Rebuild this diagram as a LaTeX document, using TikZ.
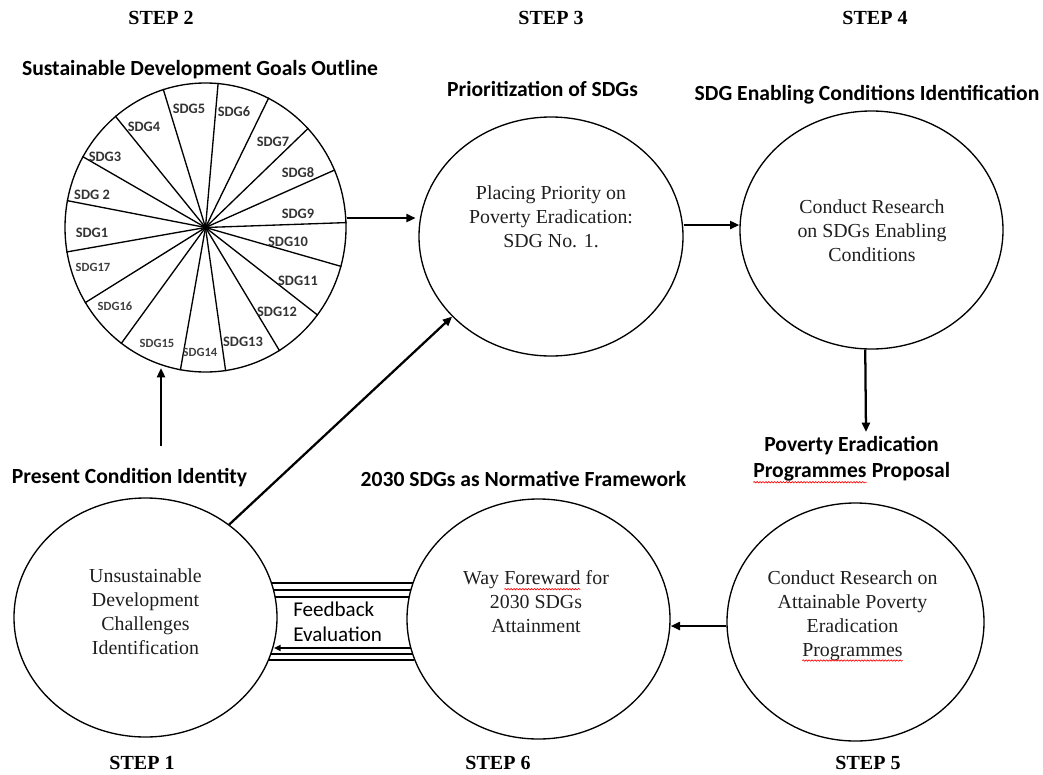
\documentclass[tikz,border=0pt]{standalone}
\usepackage{fontspec}
\setmainfont{Liberation Serif}
\newfontfamily\calfont{Carlito}
\usetikzlibrary{shapes.geometric,arrows.meta,decorations.pathmorphing,calc}
\newcommand\spell[1]{\tikz[baseline=(sp.base)]{\node[inner sep=0pt,outer sep=0pt](sp){#1};\draw[red,line width=0.5pt,decorate,decoration={snake,amplitude=0.5pt,segment length=2.2pt}]([yshift=-3.2pt]sp.base west)--([yshift=-3.2pt]sp.base east);}}
\begin{document}
\begin{tikzpicture}[x=0.75pt,y=-0.75pt,
  circ/.style={draw, ellipse, inner sep=0pt, line width=1pt},
  arr/.style={line width=1.7pt, -{Triangle[length=7pt,width=6pt]}},
  ttl/.style={font=\calfont\bfseries\fontsize{16.2}{19.5}\selectfont, inner sep=1pt, align=center},
  steplab/.style={font=\bfseries\fontsize{15}{18}\selectfont, inner sep=1pt},
  body/.style={font=\fontsize{14.9}{18}\selectfont, align=center, text=black!88, inner sep=0pt},
  sdg/.style={font=\calfont\bfseries\fontsize{10.8}{12}\selectfont, inner sep=0pt, text=black!80},
  sdgs/.style={font=\calfont\bfseries\fontsize{9.4}{11}\selectfont, inner sep=0pt, text=black!75},
  spoke/.style={line width=1pt},
  fb/.style={line width=0.9pt},
]
\useasboundingbox (0,0) rectangle (1043,775);

% ---- circles ----
\node[circ, minimum width=210.75pt, minimum height=216.75pt] (wheel) at (205.5,227.5) {};
\node[circ, minimum width=198pt, minimum height=179.25pt] (s3) at (551,236.5) {};
\node[circ, minimum width=197.25pt, minimum height=178.5pt] (s4) at (871.5,230) {};
\node[circ, minimum width=197.25pt, minimum height=179.25pt] (s1) at (145.5,617.5) {};
\node[circ, minimum width=197.25pt, minimum height=180pt] (s6) at (538.5,619) {};
\node[circ, minimum width=192.75pt, minimum height=178.5pt] (s5) at (855.5,622) {};

% ---- wheel spokes ----
\foreach \a in {107,85,64,44,24,2,344,322,301,278,260,234,212,190,169,150,129}
  \draw[spoke] (wheel.center) -- (wheel.\a);

% ---- wheel labels ----
\node[sdg] (g5) at (189,109) {SDG5};
\node[sdg] (g6) at (234,112) {SDG6};
\node[sdg] (g7) at (273,142) {SDG7};
\node[sdg] (g8) at (298,173) {SDG8};
\node[sdg] (g9) at (298,214) {SDG9};
\node[sdg] (g10) at (288,242) {SDG10};
\node[sdg] (g11) at (298,281) {SDG11};
\node[sdg] (g12) at (277,312) {SDG12};
\node[sdg] (g13) at (243,342) {SDG13};
\node[sdgs] (g14) at (200,352) {SDG14};
\node[sdgs] (g15) at (157,343) {SDG15};
\node[sdgs] (g16) at (115,306) {SDG16};
\node[sdgs] (g17) at (93,267) {SDG17};
\node[sdg] (g1) at (92,233) {SDG1};
\node[sdg] (g2) at (92,195) {SDG 2};
\node[sdg] (g3) at (105,157) {SDG3};
\node[sdg] (g4) at (144,127) {SDG4};

% ---- circle texts ----
\node[body] (t3) at (551,217) {Placing Priority on\\Poverty Eradication:\\SDG No. 1.};
\node[body] (t4) at (872,231) {Conduct Research\\on SDGs Enabling\\Conditions};
\node[body] (t1) at (145.5,612) {Unsustainable\\Development\\Challenges\\Identification};
\node[body] (t6) at (536,602) {Way \spell{Foreward} for\\2030 SDGs\\Attainment};
\node[body] (t5) at (852.5,616) {Conduct Research on\\Attainable Poverty\\Eradication\\\spell{Programmes}};

% ---- titles ----
\node[ttl] (h2) at (200,70) {Sustainable Development Goals Outline};
\node[ttl] (h3) at (542.5,89) {Prioritization of SDGs};
\node[ttl] (h4) at (867,95) {SDG Enabling Conditions Identification};
\node[ttl] (h1) at (129.5,478) {Present Condition Identity};
\node[ttl] (h6) at (523.5,479) {2030 SDGs as Normative Framework};
\node[ttl] (h5) at (851.5,460) {Poverty Eradication\\\spell{Programmes} Proposal};
\node[font=\calfont\fontsize{15.8}{18.5}\selectfont, align=left, anchor=west, inner sep=0pt] (fbk) at (293,622) {Feedback\\Evaluation};

% ---- step labels ----
\node[steplab] (st2) at (161,18) {STEP 2};
\node[steplab] (st3) at (551,18) {STEP 3};
\node[steplab] (st4) at (875,18) {STEP 4};
\node[steplab] (st1) at (142,763) {STEP 1};
\node[steplab] (st6) at (498,763) {STEP 6};
\node[steplab] (st5) at (868,763) {STEP 5};

% ---- arrows ----
\coordinate (a1s) at (161,446);
\coordinate (a1e) at (161,368);
\draw[arr] (a1s) -- (a1e);
\draw[arr] ([yshift=7.1pt]wheel.east) -- ([yshift=7.1pt,xshift=-2pt]wheel.east -| s3.west);
\draw[arr] ([yshift=8.6pt]s3.east) -- ([yshift=8.6pt]s3.east -| s4.west);
\draw[arr] (s1.48) -- (s3.219);
\coordinate (a4e) at (866,432);
\draw[arr] (s4.267) -- (a4e);
\draw[arr] ([yshift=-3pt]s5.west) -- ([yshift=-3pt]s5.west -| s6.east);

% ---- feedback lines ----
\coordinate (f1a) at (271.4,583); \coordinate (f1b) at (413.1,583);
\coordinate (f2a) at (273.5,590); \coordinate (f2b) at (410.9,590);
\coordinate (f3a) at (275.1,597); \coordinate (f3b) at (409.2,597);
\coordinate (f4a) at (274,648);   \coordinate (f4b) at (410.9,648);
\coordinate (f5a) at (270.7,654); \coordinate (f5b) at (412.7,654);
\coordinate (f6a) at (268.4,660); \coordinate (f6b) at (414.1,660);
\draw[fb] (f1a) -- (f1b);
\draw[fb] (f2a) -- (f2b);
\draw[fb] (f3a) -- (f3b);
\draw[line width=1.5pt, -{Triangle[length=5pt,width=4.5pt]}] (f4b) -- (f4a);
\draw[fb] (f5a) -- (f5b);
\draw[fb] (f6a) -- (f6b);
\end{tikzpicture}
\end{document}
